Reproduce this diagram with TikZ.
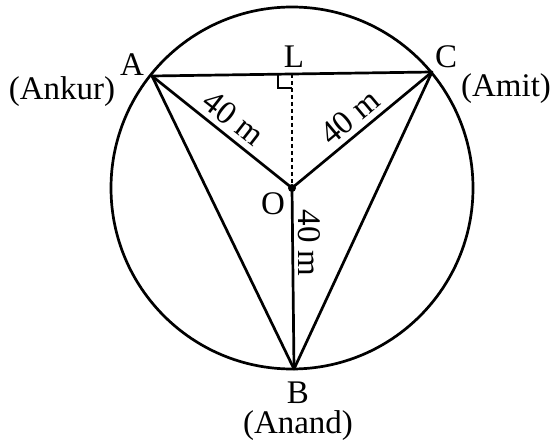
\documentclass[tikz,border=0pt]{standalone}
\usepackage{fontspec}
\setmainfont{Liberation Serif}
\begin{document}
\begin{tikzpicture}[x=1pt,y=-1pt,
  lbl/.style={inner sep=0pt,font=\fontsize{33}{38}\selectfont},
  edge/.style={line width=2.7pt,line join=round},
  thin/.style={line width=2.2pt}]
\useasboundingbox (0,0) rectangle (556,446);
\coordinate (O) at (292,188);
\coordinate (A) at (152,76);
\coordinate (C) at (432,72);
\coordinate (B) at (294,369);
\coordinate (L) at (292,74);
\draw[edge] (O) circle[radius=181];
\draw[edge] (A) -- (C) -- (B) -- cycle;
\draw[edge] (A) -- (O) -- (C);
\draw[edge] (O) -- (B);
\draw[thin,dash pattern=on 4pt off 3pt] (L) -- (O);
\draw[thin] (292,88) -- (278,88) -- (278,74);
\fill (O) circle[radius=4];
\node[lbl] (lA) at (132,65) {A};
\node[lbl] (nA) at (62,92) {(Ankur)};
\node[lbl] (lL) at (294,57) {L};
\node[lbl] (lC) at (446,57) {C};
\node[lbl] (nC) at (506,89) {(Amit)};
\node[lbl] (lO) at (273,204) {O};
\node[lbl] (lB) at (298,393) {B};
\node[lbl] (nB) at (298,426) {(Anand)};
\node[lbl,rotate=-38] (dA) at (234,118) {40 m};
\node[lbl,rotate=40] (dC) at (350,117) {40 m};
\node[lbl,rotate=-90] (dB) at (309,243) {40 m};
\end{tikzpicture}
\end{document}
